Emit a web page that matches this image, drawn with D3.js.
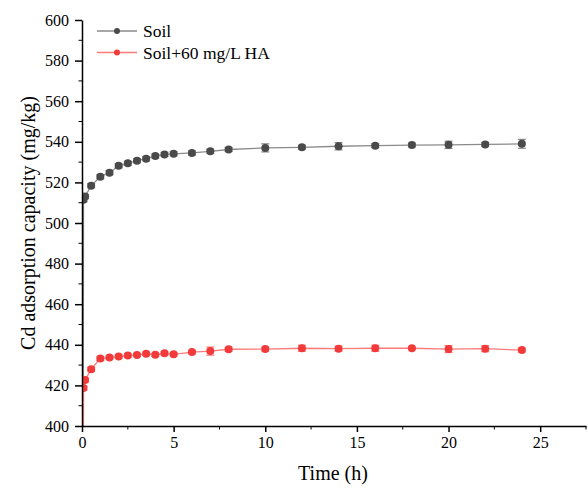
<!DOCTYPE html>
<html>
<head>
<meta charset="utf-8">
<script src="https://cdn.jsdelivr.net/npm/d3@7"></script>
<style>
  body { margin: 0; background: #fff; }
  svg text { font-family: "Liberation Serif", "Times New Roman", serif; fill: #000; }
</style>
</head>
<body>
<div id="viz"></div>
<script>
// sampling times (h), 0 is the start point (q = 0, off the chart)
const times = [0, 0.083, 0.167, 0.5, 1, 1.5, 2, 2.5, 3, 3.5, 4, 4.5, 5, 6, 7, 8, 10, 12, 14, 16, 18, 20, 22, 24];

const soil = [0, 511.5, 513, 518.4, 522.8, 524.8, 528.2, 529.4, 530.7, 531.7, 533, 533.8, 534.1, 534.5, 535.3, 536.2, 537, 537.3, 537.8, 538.1, 538.4, 538.5, 538.7, 539];
const soilErr = [0, 1, 1, 1, 1, 1, 1, 1, 1, 1, 1, 1, 1, 1, 1, 1, 2, 1, 1.8, 1, 1, 1.8, 1, 2.2];

const soilHA = [0, 418.7, 422.6, 428, 433.2, 433.7, 434.2, 434.7, 435, 435.6, 435.1, 435.8, 435.3, 436.4, 436.9, 437.8, 437.9, 438.3, 438.1, 438.3, 438.3, 437.9, 438.1, 437.4];
const soilHAErr = [0, 1, 1, 1, 1, 0.8, 0.8, 0.8, 0.8, 0.8, 0.8, 0.8, 0.8, 0.8, 2, 1, 1, 1.5, 1.2, 1.5, 0.6, 1.7, 1.5, 1];

const seriesNames = ["Soil", "Soil+60 mg/L HA"];
const xTicks = [0, 5, 10, 15, 20, 25];
const yTicks = [400, 420, 440, 460, 480, 500, 520, 540, 560, 580, 600];

const width = 588, height = 490;
const margin = {left: 82, right: 2, top: 20, bottom: 64};

const svg = d3.select("#viz").append("svg")
    .attr("width", width)
    .attr("height", height);

const x = d3.scaleLinear().domain([0, 27.5]).range([margin.left, width - margin.right]);
const y = d3.scaleLinear().domain([400, 600]).range([height - margin.bottom, margin.top]);

svg.append("defs").append("clipPath").attr("id", "plot")
  .append("rect")
    .attr("x", margin.left).attr("y", margin.top)
    .attr("width", width - margin.right - margin.left)
    .attr("height", height - margin.bottom - margin.top);

const series = [
  {name: seriesNames[0], vals: soil, err: soilErr, line: "#8a8a8a", dot: "#4a4a4a", bar: "#8a8a8a"},
  {name: seriesNames[1], vals: soilHA, err: soilHAErr, line: "#ff7a7a", dot: "#f23a3a", bar: "#ff7a7a"}
];

const plot = svg.append("g").attr("clip-path", "url(#plot)");

const line = d3.line().x(d => x(d.t)).y(d => y(d.v));

series.forEach(s => {
  const pts = times.map((t, i) => ({t: t, v: s.vals[i], e: s.err[i]}));
  plot.append("path")
      .datum(pts)
      .attr("fill", "none")
      .attr("stroke", s.line)
      .attr("stroke-width", 1.3)
      .attr("d", line);

  const g = plot.selectAll(null)
    .data(pts.filter(d => d.t > 0))
    .join("g");
  g.append("line")
      .attr("x1", d => x(d.t)).attr("x2", d => x(d.t))
      .attr("y1", d => y(d.v - d.e)).attr("y2", d => y(d.v + d.e))
      .attr("stroke", s.bar).attr("stroke-width", 1);
  g.selectAll(".cap")
    .data(d => [d.v - d.e, d.v + d.e].map(v => ({t: d.t, v: v})))
    .join("line")
      .attr("x1", d => x(d.t) - 4).attr("x2", d => x(d.t) + 4)
      .attr("y1", d => y(d.v)).attr("y2", d => y(d.v))
      .attr("stroke", s.bar).attr("stroke-width", 1.2);
  g.append("circle")
      .attr("cx", d => x(d.t)).attr("cy", d => y(d.v))
      .attr("r", 4)
      .attr("fill", s.dot);
});

// axes
const xAxis = svg.append("g")
    .attr("transform", `translate(0,${height - margin.bottom})`)
    .call(d3.axisBottom(x).tickValues(xTicks).tickSize(6).tickPadding(5).tickSizeOuter(0));
xAxis.selectAll(".tick text").style("font-size", "16px");
xAxis.append("g").selectAll("line")
  .data(d3.range(2.5, 28, 5))
  .join("line")
    .attr("x1", d => x(d)).attr("x2", d => x(d))
    .attr("y1", 0).attr("y2", 3.5)
    .attr("stroke", "#000");

const yAxis = svg.append("g")
    .attr("transform", `translate(${margin.left},0)`)
    .call(d3.axisLeft(y).tickValues(yTicks).tickSize(7).tickPadding(6).tickSizeOuter(0));
yAxis.selectAll(".tick text").style("font-size", "16px");
yAxis.append("g").selectAll("line")
  .data(d3.range(410, 600, 20))
  .join("line")
    .attr("x1", 0).attr("x2", -3.5)
    .attr("y1", d => y(d)).attr("y2", d => y(d))
    .attr("stroke", "#000");

svg.selectAll(".domain, .tick line").attr("stroke", "#000").attr("stroke-width", 1.5);

svg.append("text")
    .attr("x", 333)
    .attr("y", 480)
    .attr("text-anchor", "middle")
    .style("font-size", "20px")
    .text("Time (h)");

svg.append("text")
    .attr("transform", `translate(35,${(margin.top + height - margin.bottom) / 2}) rotate(-90)`)
    .attr("text-anchor", "middle")
    .style("font-size", "20px")
    .text("Cd adsorption capacity (mg/kg)");

// legend
const legend = svg.append("g")
  .selectAll("g")
  .data(series)
  .join("g")
    .attr("transform", (d, i) => `translate(97,${31 + i * 21.5})`);
legend.append("line")
    .attr("x1", 0).attr("x2", 40)
    .attr("stroke", d => d.line).attr("stroke-width", 1.3);
legend.append("circle")
    .attr("cx", 20).attr("r", 3)
    .attr("fill", d => d.dot);
legend.append("text")
    .attr("x", 46).attr("y", 6)
    .style("font-size", "17.5px")
    .text(d => d.name);
</script>
</body>
</html>
